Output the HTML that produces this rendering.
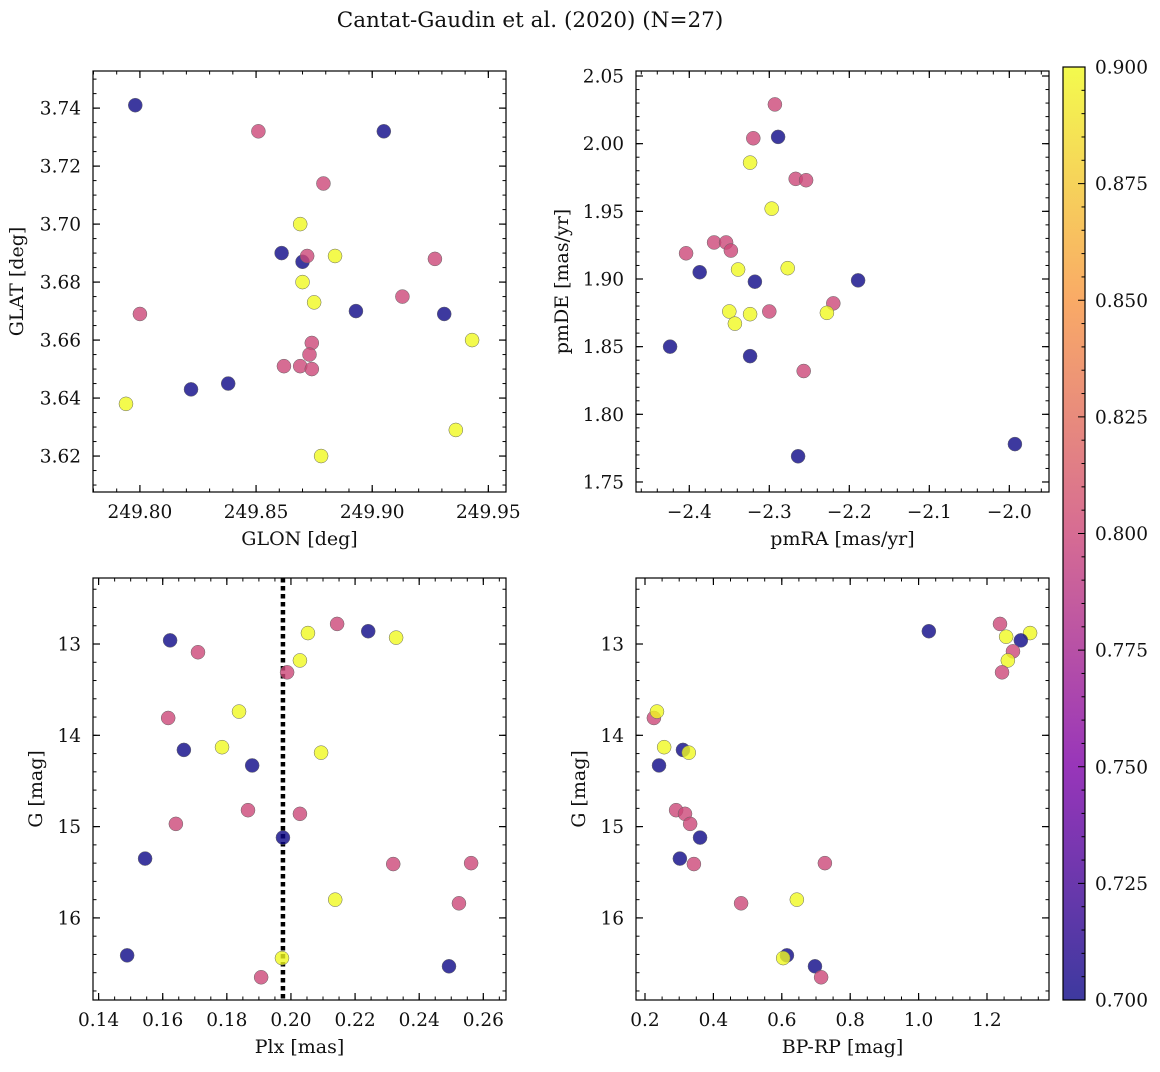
<!DOCTYPE html>
<html><head><meta charset="utf-8"><style>
html,body{margin:0;padding:0;background:#fff}
svg text{font-family:"DejaVu Serif","Liberation Serif",serif;fill:#111}
</style></head><body>
<svg id="fig" width="1160" height="1067" viewBox="0 0 1160 1067" xmlns="http://www.w3.org/2000/svg">
<defs>
<linearGradient id="plasma" x1="0" y1="1" x2="0" y2="0">
<stop offset="0" stop-color="#0d0887"/><stop offset="0.25" stop-color="#7e03a8"/><stop offset="0.5" stop-color="#cc4778"/><stop offset="0.75" stop-color="#f89540"/><stop offset="1" stop-color="#f0f921"/>
</linearGradient>
</defs>
<text x="530" y="27" font-size="21.5" text-anchor="middle">Cantat-Gaudin et al. (2020) (N=27)</text>
</svg>
<script>
// ---- data ----
const glon = [249.798,249.851,249.905,249.879,249.869,249.861,249.870,249.872,249.884,249.927,249.870,249.875,249.913,249.893,249.931,249.800,249.943,249.874,249.873,249.862,249.869,249.874,249.838,249.822,249.794,249.936,249.878];
const glat = [3.741,3.732,3.732,3.714,3.700,3.690,3.687,3.689,3.689,3.688,3.680,3.673,3.675,3.670,3.669,3.669,3.660,3.659,3.655,3.651,3.651,3.650,3.645,3.643,3.638,3.629,3.620];
const probA = [0.70,0.80,0.70,0.80,0.90,0.70,0.70,0.80,0.90,0.80,0.90,0.90,0.80,0.70,0.70,0.80,0.90,0.80,0.80,0.80,0.80,0.80,0.70,0.70,0.90,0.90,0.90];

const pmra = [-2.293,-2.320,-2.289,-2.324,-2.267,-2.254,-2.297,-2.404,-2.369,-2.354,-2.348,-2.387,-2.339,-2.277,-2.318,-2.189,-2.220,-2.350,-2.324,-2.300,-2.228,-2.343,-2.424,-2.324,-2.257,-1.993,-2.264];
const pmde = [2.029,2.004,2.005,1.986,1.974,1.973,1.952,1.919,1.927,1.927,1.921,1.905,1.907,1.908,1.898,1.899,1.882,1.876,1.874,1.876,1.875,1.867,1.850,1.843,1.832,1.778,1.769];
const probB = [0.80,0.80,0.70,0.90,0.80,0.80,0.90,0.80,0.80,0.80,0.80,0.70,0.90,0.90,0.70,0.70,0.80,0.90,0.90,0.80,0.90,0.90,0.70,0.70,0.80,0.70,0.70];

const plx = [0.1623,0.1710,0.2144,0.2241,0.2053,0.2328,0.2028,0.1988,0.1617,0.1838,0.1666,0.1785,0.2094,0.1879,0.1866,0.2028,0.1641,0.1975,0.1545,0.2319,0.2562,0.2138,0.2524,0.1489,0.1972,0.2493,0.1907];
const gC = [12.96,13.09,12.78,12.86,12.88,12.93,13.18,13.31,13.81,13.74,14.16,14.13,14.19,14.33,14.82,14.86,14.97,15.12,15.35,15.41,15.40,15.80,15.84,16.41,16.44,16.53,16.65];
const probC = [0.70,0.80,0.80,0.70,0.90,0.90,0.90,0.80,0.80,0.90,0.70,0.90,0.90,0.70,0.80,0.80,0.80,0.70,0.70,0.80,0.80,0.90,0.80,0.70,0.90,0.70,0.80];
const meanPlx = 0.1975;

const bprp = [1.030,1.238,1.256,1.326,1.299,1.276,1.261,1.244,0.226,0.235,0.256,0.311,0.328,0.241,0.291,0.317,0.332,0.361,0.302,0.343,0.726,0.644,0.481,0.615,0.604,0.697,0.715];
const gD = [12.86,12.78,12.92,12.88,12.96,13.08,13.18,13.31,13.81,13.74,14.13,14.16,14.19,14.33,14.82,14.86,14.97,15.12,15.35,15.41,15.40,15.80,15.84,16.41,16.44,16.53,16.65];
const probD = [0.70,0.80,0.90,0.90,0.70,0.80,0.90,0.80,0.80,0.90,0.90,0.70,0.90,0.70,0.80,0.80,0.80,0.70,0.70,0.80,0.80,0.90,0.80,0.70,0.90,0.70,0.80];

const cbarTicks = ["0.700","0.725","0.750","0.775","0.800","0.825","0.850","0.875","0.900"];

// ---- drawing ----
const svg = document.getElementById('fig');
const NS = 'http://www.w3.org/2000/svg';
function mk(tag, attrs){const e=document.createElementNS(NS,tag);for(const k in attrs)e.setAttribute(k,attrs[k]);svg.appendChild(e);return e;}
const stops=[[13,8,135],[126,3,168],[204,71,120],[248,149,64],[240,249,33]];
function plasma(p){let t=(p-0.7)/0.2;t=Math.max(0,Math.min(1,t))*4;const i=Math.min(3,Math.floor(t)),f=t-i;const a=stops[i],b=stops[i+1];return 'rgb('+a.map((v,k)=>Math.round(v+(b[k]-v)*f)).join(',')+')';}
function fmt(v,d){let s=Math.abs(v).toFixed(d);return (v<-1e-9?'\u2212':'')+s;}
const TF=18.5, LF=19;

function panel(o){
  const {x0,x1,y0,y1,xd,yd,inv}=o;
  const sx=v=>x0+(v-xd[0])/(xd[1]-xd[0])*(x1-x0);
  const sy=inv?(v=>y0+(v-yd[0])/(yd[1]-yd[0])*(y1-y0)):(v=>y1-(v-yd[0])/(yd[1]-yd[0])*(y1-y0));
  const eps=1e-9;
  function ticks(lo,hi,step){const a=[];for(let v=Math.ceil((lo-eps)/step)*step;v<=hi+eps;v+=step)a.push(+v.toFixed(6));return a;}
  const xlo=Math.min(...xd),xhi=Math.max(...xd),ylo=Math.min(...yd),yhi=Math.max(...yd);
  ticks(xlo,xhi,o.xmin).forEach(v=>{const x=sx(v);
    const t=mk('line',{x1:x,x2:x,y1:y1,y2:y1-3.5,stroke:'#000','stroke-width':1});
    const t2=mk('line',{x1:x,x2:x,y1:y0,y2:y0+3.5,stroke:'#000','stroke-width':1});});
  ticks(ylo,yhi,o.ymin).forEach(v=>{const y=sy(v);
    const t=mk('line',{x1:x0,x2:x0+3.5,y1:y,y2:y,stroke:'#000','stroke-width':1});
    const t2=mk('line',{x1:x1,x2:x1-3.5,y1:y,y2:y,stroke:'#000','stroke-width':1});});
  ticks(xlo,xhi,o.xmaj).forEach(v=>{const x=sx(v);
    const t=mk('line',{x1:x,x2:x,y1:y1,y2:y1-7,stroke:'#000','stroke-width':1.2});
    const t2=mk('line',{x1:x,x2:x,y1:y0,y2:y0+7,stroke:'#000','stroke-width':1.2});
    const l=mk('text',{x:x,y:y1+26,'font-size':TF,'text-anchor':'middle'});l.textContent=fmt(v,o.xdec);});
  ticks(ylo,yhi,o.ymaj).forEach(v=>{const y=sy(v);
    const t=mk('line',{x1:x0,x2:x0+7,y1:y,y2:y,stroke:'#000','stroke-width':1.2});
    const t2=mk('line',{x1:x1,x2:x1-7,y1:y,y2:y,stroke:'#000','stroke-width':1.2});
    const l=mk('text',{x:x0-12,y:y+6.5,'font-size':TF,'text-anchor':'end'});l.textContent=fmt(v,o.ydec);});
  if(o.vline!==undefined){const x=sx(o.vline);
    const vl=mk('line',{x1:x,x2:x,y1:y0,y2:y1,stroke:'#000','stroke-width':4.5,'stroke-dasharray':'4.5,3.5'});
    }
  o.xs.forEach((v,i)=>{const c=mk('circle',{cx:sx(v),cy:sy(o.ys[i]),r:7,fill:plasma(o.ps[i]),'fill-opacity':0.8,stroke:'#666','stroke-width':0.5});
    });
  const f=mk('rect',{x:x0,y:y0,width:x1-x0,height:y1-y0,fill:'none',stroke:'#000','stroke-width':1.2});
  
  const xl=mk('text',{x:(x0+x1)/2,y:y1+53,'font-size':LF,'text-anchor':'middle'});xl.textContent=o.xlab;
  
  const yx=o.ylx, yc=(y0+y1)/2;
  const yl=mk('text',{x:yx,y:yc,'font-size':LF,'text-anchor':'middle',transform:'rotate(-90 '+yx+' '+yc+')'});yl.textContent=o.ylab;
  
}

panel({x0:93,x1:506,y0:71,y1:492,xd:[249.7798,249.9576],yd:[3.6076,3.7528],xmaj:0.05,xmin:0.01,ymaj:0.02,ymin:0.005,xdec:2,ydec:2,xs:glon,ys:glat,ps:probA,xlab:'GLON [deg]',ylab:'GLAT [deg]',ylx:23});
panel({x0:636,x1:1049,y0:71,y1:492,xd:[-2.4666,-1.9504],yd:[1.7426,2.0537],xmaj:0.1,xmin:0.02,ymaj:0.05,ymin:0.01,xdec:1,ydec:2,xs:pmra,ys:pmde,ps:probB,xlab:'pmRA [mas/yr]',ylab:'pmDE [mas/yr]',ylx:568});
panel({x0:93,x1:506,y0:578,y1:1000,xd:[0.13825,0.26708],yd:[12.277,16.899],inv:true,xmaj:0.02,xmin:0.005,ymaj:1,ymin:0.2,xdec:2,ydec:0,xs:plx,ys:gC,ps:probC,vline:meanPlx,xlab:'Plx [mas]',ylab:'G [mag]',ylx:42});
panel({x0:636,x1:1049,y0:578,y1:1000,xd:[0.1737,1.3813],yd:[12.277,16.899],inv:true,xmaj:0.2,xmin:0.05,ymaj:1,ymin:0.2,xdec:1,ydec:0,xs:bprp,ys:gD,ps:probD,xlab:'BP-RP [mag]',ylab:'G [mag]',ylx:585});

// colorbar
const cb=mk('rect',{x:1063,y:67,width:22,height:933,fill:'url(#plasma)','fill-opacity':0.8});

const cbs=v=>1000-(v-0.7)/0.2*933;
for(let v=0.7;v<=0.9001;v+=0.005){const y=cbs(v);const mj=Math.abs((v*1000)%25)<0.5||Math.abs((v*1000)%25-25)<0.5;
  const t=mk('line',{x1:1085,x2:mj?1078:1081.5,y1:y,y2:y,stroke:'#000','stroke-width':1});
  }
cbarTicks.forEach(s=>{const y=cbs(parseFloat(s));
  const l=mk('text',{x:1095,y:y+6.5,'font-size':TF});l.textContent=s;
  });
const cf=mk('rect',{x:1063,y:67,width:22,height:933,fill:'none',stroke:'#000','stroke-width':1.2});

</script>
</body></html>
